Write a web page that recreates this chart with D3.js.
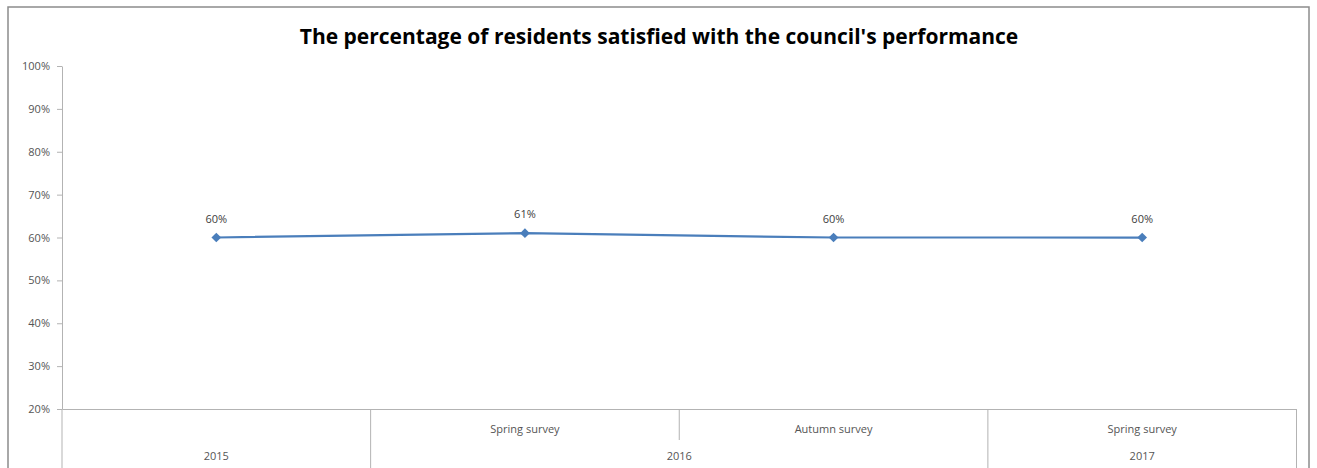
<!DOCTYPE html>
<html>
<head>
<meta charset="utf-8">
<script src="https://cdn.jsdelivr.net/npm/d3@7"></script>
<style>
  html, body { margin: 0; padding: 0; background: #fff; }
  svg { display: block; }
  text { font-family: "Open Sans", "DejaVu Sans", sans-serif; }
</style>
</head>
<body>
<svg id="chart" width="1317" height="468"></svg>
<script>
// ---- data ----
const titleText = "The percentage of residents satisfied with the council's performance";
const surveys = ["", "Spring survey", "Autumn survey", "Spring survey"];
const years = ["2015", "2016", "2016", "2017"];
const satisfaction = [0.60, 0.61, 0.60, 0.60];
const yTicks = [0.2, 0.3, 0.4, 0.5, 0.6, 0.7, 0.8, 0.9, 1.0];

// ---- layout ----
const W = 1317, H = 468;
const plot = { left: 62, right: 1296.5, top: 66, bottom: 409 };
const svg = d3.select("#chart");

// chart frame
svg.append("rect")
  .attr("x", 8).attr("y", 7)
  .attr("width", 1301).attr("height", H + 10)
  .attr("fill", "#fff").attr("stroke", "#8c8c8c").attr("stroke-width", 1.5);

// title
svg.append("text")
  .attr("x", 659).attr("y", 44)
  .attr("text-anchor", "middle")
  .attr("font-weight", "bold")
  .attr("font-size", 21)
  .attr("fill", "#000")
  .text(titleText);

const idx = satisfaction.map((d, i) => i);
const x = d3.scaleBand().domain(idx).range([plot.left, plot.right]).padding(0);
const y = d3.scaleLinear().domain([0.2, 1.0]).range([plot.bottom, plot.top]);

const axisColor = "#b3b3b3";
const labelColor = "#555555";

// y axis
const yAxis = d3.axisLeft(y)
  .tickValues(yTicks)
  .tickFormat(d3.format(".0%"))
  .tickSizeInner(5).tickSizeOuter(0).tickPadding(7);
const gy = svg.append("g").attr("transform", `translate(${plot.left},0)`).call(yAxis);
gy.select(".domain").attr("stroke", axisColor);
gy.selectAll(".tick line").attr("stroke", axisColor);
gy.selectAll(".tick text").attr("fill", labelColor).attr("font-size", 11)
  .attr("font-family", "Open Sans, sans-serif");

// x axis (horizontal line)
const xAxis = d3.axisBottom(x).tickSize(0).tickFormat(() => "");
const gx = svg.append("g").attr("transform", `translate(0,${plot.bottom})`).call(xAxis);
gx.select(".domain").attr("stroke", axisColor);

// multi-level category lines
const row1 = 429, row2 = 460;
const catG = svg.append("g");
// level-1 labels
catG.selectAll("text.survey").data(idx).join("text")
  .attr("class", "survey")
  .attr("x", i => x(i) + x.bandwidth() / 2)
  .attr("y", row1 + 4)
  .attr("text-anchor", "middle")
  .attr("font-size", 11)
  .attr("fill", labelColor)
  .text(i => surveys[i]);

// groups by year
const groups = [];
years.forEach((yr, i) => {
  const last = groups[groups.length - 1];
  if (last && last.year === yr) last.end = i;
  else groups.push({ year: yr, start: i, end: i });
});
catG.selectAll("text.year").data(groups).join("text")
  .attr("class", "year")
  .attr("x", g => (x(g.start) + x(g.end) + x.bandwidth()) / 2)
  .attr("y", row2)
  .attr("text-anchor", "middle")
  .attr("font-size", 11)
  .attr("fill", labelColor)
  .text(g => g.year);

// boundaries
const boundaries = idx.map(i => ({ pos: x(i), full: i === 0 || years[i] !== years[i - 1] }));
boundaries.push({ pos: x(idx[idx.length - 1]) + x.bandwidth(), full: true });
catG.selectAll("line.div").data(boundaries).join("line")
  .attr("class", "div")
  .attr("x1", d => d.pos).attr("x2", d => d.pos)
  .attr("y1", plot.bottom)
  .attr("y2", d => d.full ? H : 440)
  .attr("stroke", axisColor).attr("stroke-width", 1);

// line series
const lineColor = "#4a7ebb";
const line = d3.line().x(i => x(i) + x.bandwidth() / 2).y(i => y(satisfaction[i]));
svg.append("path").datum(idx)
  .attr("d", line)
  .attr("fill", "none")
  .attr("stroke", lineColor)
  .attr("stroke-width", 2.25);

svg.append("g").selectAll("path").data(idx).join("path")
  .attr("d", d3.symbol(d3.symbolDiamond2, 60))
  .attr("transform", i => `translate(${x(i) + x.bandwidth() / 2},${y(satisfaction[i])})`)
  .attr("fill", lineColor);

// data labels
svg.append("g").selectAll("text").data(idx).join("text")
  .attr("x", i => x(i) + x.bandwidth() / 2)
  .attr("y", i => y(satisfaction[i]) - 15)
  .attr("text-anchor", "middle")
  .attr("font-size", 11)
  .attr("fill", "#404040")
  .text(i => d3.format(".0%")(satisfaction[i]));
</script>
</body>
</html>
